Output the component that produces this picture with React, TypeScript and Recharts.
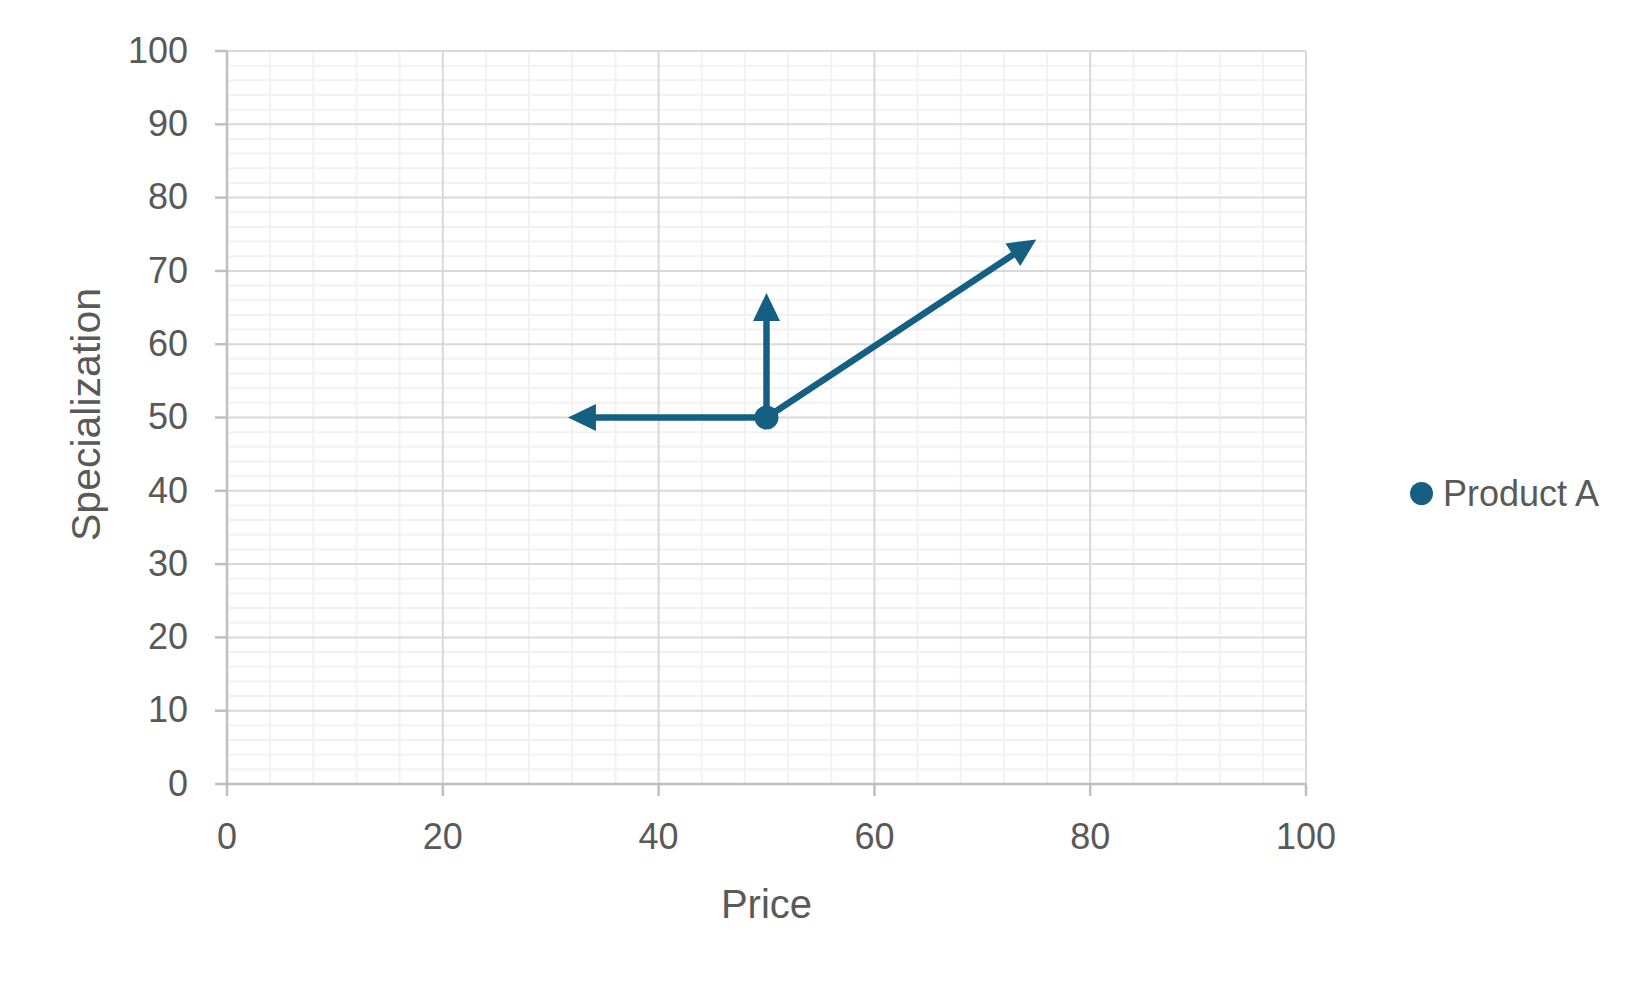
import React from 'react';
import {
  ScatterChart,
  Scatter,
  XAxis,
  YAxis,
  CartesianGrid,
  ReferenceLine,
  Legend,
  Label,
} from 'recharts';

// ---- data ----
const seriesName = 'Product A';
const pointPrice = [50];
const pointSpec = [50];
const arrowTipPrice = [31.6, 50, 75];
const arrowTipSpec = [50, 67, 74.3];
const xTicks = [0, 20, 40, 60, 80, 100];
const yTicks = [0, 10, 20, 30, 40, 50, 60, 70, 80, 90, 100];
const xMinorTicks = [4, 8, 12, 16, 24, 28, 32, 36, 44, 48, 52, 56, 64, 68, 72, 76, 84, 88, 92, 96];
const yMinorTicks = [
  2, 4, 6, 8, 12, 14, 16, 18, 22, 24, 26, 28, 32, 34, 36, 38, 42, 44, 46, 48,
  52, 54, 56, 58, 62, 64, 66, 68, 72, 74, 76, 78, 82, 84, 86, 88, 92, 94, 96, 98,
];
const xTitle = 'Price';
const yTitle = 'Specialization';

const points = pointPrice.map((p, i) => ({ price: p, spec: pointSpec[i] }));
const arrows = arrowTipPrice.map((p, i) => ({ price: p, spec: arrowTipSpec[i] }));

// ---- styles ----
const COLOR = '#156082';
const TEXT = '#595959';
const FONT = '"Liberation Sans", Arial, sans-serif';
const HEAD_LEN = 28;
const HEAD_HALF = 13.5;

const Arrow = (props: any) => {
  const { x1, y1, x2, y2 } = props;
  const dx = x2 - x1;
  const dy = y2 - y1;
  const len = Math.hypot(dx, dy) || 1;
  const ux = dx / len;
  const uy = dy / len;
  const bx = x2 - ux * HEAD_LEN;
  const by = y2 - uy * HEAD_LEN;
  const px = -uy;
  const py = ux;
  const pts = `${x2},${y2} ${bx + px * HEAD_HALF},${by + py * HEAD_HALF} ${bx - px * HEAD_HALF},${by - py * HEAD_HALF}`;
  return (
    <g>
      <line x1={x1} y1={y1} x2={bx + ux * 1} y2={by + uy * 1} stroke={COLOR} strokeWidth={6.5} />
      <polygon points={pts} fill={COLOR} />
    </g>
  );
};

const Dot = (props: any) => <circle cx={props.cx} cy={props.cy} r={12} fill={COLOR} />;

const XTitle = (props: any) => {
  const vb = props.viewBox || { x: 219, y: 776, width: 1079, height: 140 };
  return (
    <text x={vb.x + vb.width / 2} y={vb.y + 134} textAnchor="middle" fill={TEXT} fontSize={40} fontFamily={FONT}>
      {xTitle}
    </text>
  );
};

const YTitle = (props: any) => {
  const vb = props.viewBox || { x: 0, y: 43, width: 219, height: 733 };
  const cx = vb.x + 92;
  const cy = vb.y + vb.height / 2 - 3;
  return (
    <text
      x={cx}
      y={cy}
      transform={`rotate(-90 ${cx} ${cy})`}
      textAnchor="middle"
      fill={TEXT}
      fontSize={41}
      fontFamily={FONT}
    >
      {yTitle}
    </text>
  );
};

const LegendContent = () => (
  <div style={{ display: 'flex', alignItems: 'center', fontFamily: FONT, fontSize: 36, lineHeight: '41px', color: TEXT, whiteSpace: 'nowrap' }}>
    <svg width={23} height={23} style={{ display: 'block' }}>
      <circle cx={11.5} cy={11.5} r={11.5} fill={COLOR} />
    </svg>
    <span style={{ marginLeft: 10 }}>{seriesName}</span>
  </div>
);

export default function App() {
  return (
    <div style={{ width: 1640, height: 979, background: '#fff' }}>
      <ScatterChart width={1640} height={979} margin={{ top: 43, right: 342, bottom: 63, left: 0 }}>
        <CartesianGrid
          stroke="#f2f2f2"
          strokeWidth={2}
          verticalValues={xMinorTicks}
          horizontalValues={yMinorTicks}
        />
        <CartesianGrid stroke="#d9d9d9" strokeWidth={2} />
        <XAxis
          type="number"
          dataKey="price"
          domain={[0, 100]}
          ticks={xTicks}
          interval={0}
          height={140}
          tickSize={12}
          tickMargin={27}
          axisLine={{ stroke: '#bfbfbf', strokeWidth: 2.5 }}
          tickLine={{ stroke: '#bfbfbf', strokeWidth: 2.5 }}
          tick={{ fill: TEXT, fontSize: 36, fontFamily: FONT }}
        >
          <Label content={<XTitle />} />
        </XAxis>
        <YAxis
          type="number"
          dataKey="spec"
          domain={[0, 100]}
          ticks={yTicks}
          interval={0}
          width={219}
          tickSize={12}
          tickMargin={27}
          axisLine={{ stroke: '#bfbfbf', strokeWidth: 2.5 }}
          tickLine={{ stroke: '#bfbfbf', strokeWidth: 2.5 }}
          tick={{ fill: TEXT, fontSize: 36, fontFamily: FONT, dy: -1 }}
        >
          <Label content={<YTitle />} />
        </YAxis>
        {arrows.map((a, i) => (
          <ReferenceLine
            key={i}
            segment={[
              { x: points[0].price, y: points[0].spec },
              { x: a.price, y: a.spec },
            ]}
            ifOverflow="visible"
            shape={Arrow}
          />
        ))}
        <Scatter name={seriesName} data={points} fill={COLOR} shape={Dot} isAnimationActive={false} />
        <Legend
          layout="vertical"
          align="center"
          verticalAlign="middle"
          content={<LegendContent />}
          wrapperStyle={{ left: 1402, top: 465, width: 'auto', height: 'auto' }}
        />
      </ScatterChart>
    </div>
  );
}
